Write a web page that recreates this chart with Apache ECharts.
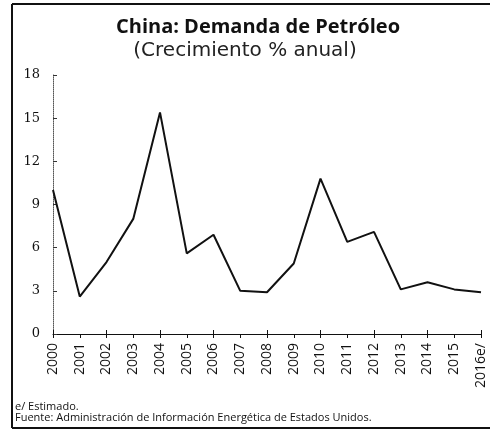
<!DOCTYPE html>
<html>
<head>
<meta charset="utf-8">
<script src="https://cdn.jsdelivr.net/npm/echarts@6/dist/echarts.min.js"></script>
<style>
  html, body { margin: 0; padding: 0; background: #fff; }
  #chart { width: 490px; height: 430px; }
</style>
</head>
<body>
<div id="chart"></div>
<script>
// datos
const years = ['2000', '2001', '2002', '2003', '2004', '2005', '2006', '2007', '2008',
  '2009', '2010', '2011', '2012', '2013', '2014', '2015', '2016e/']
const demanda = [10.0, 2.6, 5.0, 8.0, 15.4, 5.6, 6.9, 3.0, 2.9, 4.9, 10.8, 6.4, 7.1, 3.1, 3.6, 3.1, 2.9]
const yTicks = [0, 3, 6, 9, 12, 15, 18]

const chart = echarts.init(document.getElementById('chart'))

chart.setOption({
  animation: false,
  title: [
    {
      text: 'China: Demanda de Petróleo',
      left: 253,
      top: 12,
      textAlign: 'center',
      textStyle: { fontFamily: 'Open Sans', fontWeight: 'bold', fontSize: 20, color: '#111' }
    },
    {
      text: '(Crecimiento % anual)',
      left: 240,
      top: 36,
      textAlign: 'center',
      textStyle: { fontFamily: 'DejaVu Sans', fontWeight: 'normal', fontSize: 20, color: '#222' }
    }
  ],
  grid: { left: 53, right: 9, top: 75, bottom: 96 },
  xAxis: [
    {
      type: 'category',
      data: years,
      boundaryGap: false,
      axisLine: { lineStyle: { color: '#111', width: 1 } },
      axisTick: { show: true, length: 4, lineStyle: { color: '#111' } },
      axisLabel: {
        rotate: 90,
        margin: 9,
        fontFamily: 'Open Sans',
        fontSize: 14,
        color: '#111'
      }
    },
    {
      // ticks hacia adentro para que crucen el eje
      type: 'category',
      data: years,
      boundaryGap: false,
      position: 'bottom',
      axisLine: { show: false },
      axisTick: { show: true, inside: true, length: 4, lineStyle: { color: '#111' } },
      axisLabel: { show: false }
    }
  ],
  yAxis: {
    type: 'value',
    min: 0,
    max: 18,
    interval: 3,
    axisLine: { show: true, lineStyle: { color: '#555', type: 'dotted', width: 1 } },
    axisTick: { show: true, inside: true, length: 4, lineStyle: { color: '#333' } },
    splitLine: { show: false },
    axisLabel: {
      margin: 13,
      fontFamily: 'DejaVu Serif',
      fontSize: 13,
      color: '#111',
      formatter: v => (yTicks.indexOf(v) >= 0 ? String(v) : '')
    }
  },
  series: [
    {
      name: 'Demanda',
      type: 'line',
      data: demanda,
      showSymbol: false,
      symbol: 'none',
      lineStyle: { color: '#111', width: 2 }
    }
  ],
  graphic: [
    { type: 'line', shape: { x1: 12, y1: 4, x2: 490, y2: 4 }, style: { stroke: '#111', lineWidth: 2 } },
    { type: 'line', shape: { x1: 12, y1: 4, x2: 12, y2: 428 }, style: { stroke: '#111', lineWidth: 2 } },
    { type: 'line', shape: { x1: 12, y1: 428, x2: 490, y2: 428 }, style: { stroke: '#111', lineWidth: 2 } },
    {
      type: 'text', left: 15, top: 401,
      style: { text: 'e/ Estimado.', fontFamily: 'Open Sans', fontSize: 11, fill: '#111' }
    },
    {
      type: 'text', left: 15, top: 412,
      style: { text: 'Fuente: Administración de Información Energética de Estados Unidos.', fontFamily: 'Open Sans', fontSize: 11, fill: '#111' }
    }
  ]
})
</script>
</body>
</html>
